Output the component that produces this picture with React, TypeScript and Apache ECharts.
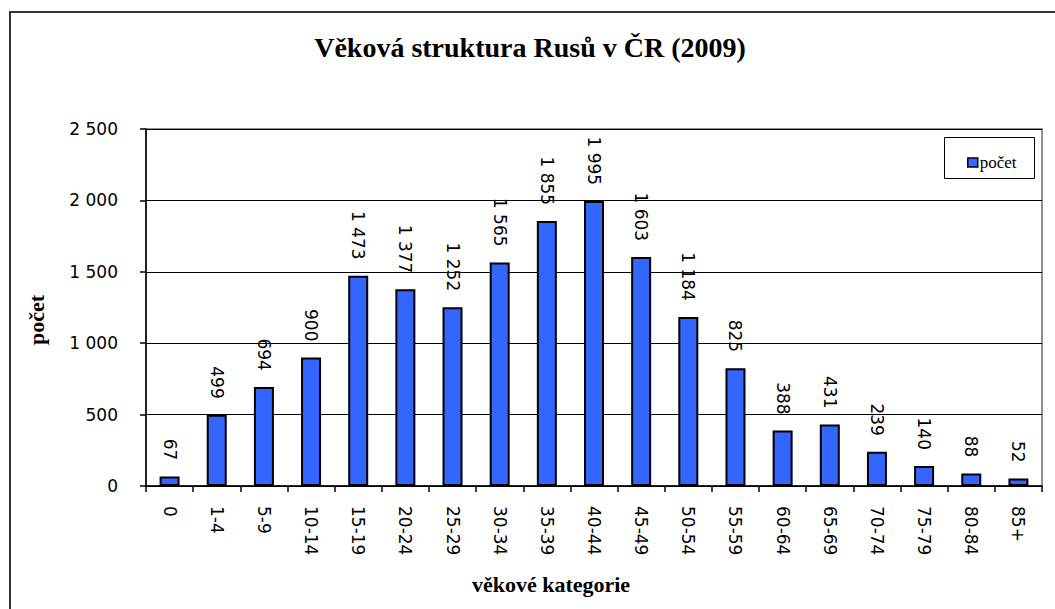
import React, { useEffect, useRef } from "react";
import * as echarts from "echarts";

const categories = ["0", "1-4", "5-9", "10-14", "15-19", "20-24", "25-29", "30-34", "35-39", "40-44", "45-49", "50-54", "55-59", "60-64", "65-69", "70-74", "75-79", "80-84", "85+"];
const values = [67, 499, 694, 900, 1473, 1377, 1252, 1565, 1855, 1995, 1603, 1184, 825, 388, 431, 239, 140, 88, 52];
const seriesName = "počet";
const titleText = "Věková struktura Rusů v ČR (2009)";
const xName = "věkové kategorie";
const yName = "počet";

const fmt = (v: number) => String(v).replace(/\B(?=(\d{3})+(?!\d))/g, " ");

export default function App() {
  const ref = useRef<HTMLDivElement>(null);
  useEffect(() => {
    document.body.style.margin = "0";
    const chart = echarts.init(ref.current!, null, { renderer: "svg" });
    const sans = "DejaVu Sans";
    const serif = "Liberation Serif";
    chart.setOption({
      animation: false,
      backgroundColor: "#fff",
      grid: {
        left: 146,
        top: 129,
        right: 13,
        bottom: 123,
        show: true,
        borderColor: "#909090",
        borderWidth: 2,
      },
      legend: {
        left: 962,
        top: 149,
        itemWidth: 10,
        itemHeight: 9,
        itemGap: 0,
        icon: "rect",
        textStyle: { fontFamily: serif, fontSize: 17, color: "#000", padding: [0, 0, 0, -3] },
        data: [{ name: seriesName, itemStyle: { borderColor: "#000", borderWidth: 1.5 } }],
      },
      xAxis: {
        type: "category",
        data: categories,
        boundaryGap: true,
        axisLine: { lineStyle: { color: "#000", width: 1.5 } },
        axisTick: { show: true, length: 6, lineStyle: { color: "#000", width: 1.5 } },
        axisLabel: {
          rotate: -90,
          margin: 20,
          fontFamily: sans,
          fontSize: 17,
          color: "#000",
          interval: 0,
        },
        splitLine: { show: false },
      },
      yAxis: {
        type: "value",
        min: 0,
        max: 2500,
        interval: 500,
        axisLine: { show: true, lineStyle: { color: "#000", width: 1.5 } },
        axisTick: { show: true, length: 6, lineStyle: { color: "#000", width: 1.5 } },
        axisLabel: {
          margin: 28,
          fontFamily: sans,
          fontSize: 17,
          color: "#000",
          formatter: (v: number) => fmt(v),
        },
        splitLine: { show: true, lineStyle: { color: "#000", width: 1 } },
      },
      series: [
        {
          name: seriesName,
          type: "bar",
          data: values,
          barWidth: 20,
          itemStyle: { color: "#3366FF", borderColor: "#000", borderWidth: 2 },
          label: {
            show: true,
            position: "top",
            distance: 16,
            rotate: -90,
            align: "right",
            verticalAlign: "middle",
            fontFamily: sans,
            fontSize: 17,
            color: "#000",
            formatter: (p: any) => fmt(p.value),
          },
        },
      ],
      graphic: [
        {
          type: "polyline",
          shape: { points: [[10, 700], [10, 12], [1100, 12]] },
          style: { stroke: "#333", lineWidth: 2, fill: null },
          silent: true,
        },
        {
          type: "rect",
          shape: { x: 944.5, y: 137.5, width: 90, height: 41 },
          style: { stroke: "#000", lineWidth: 1, fill: "#fff" },
          z: -1,
          silent: true,
        },
        {
          type: "text",
          x: 530,
          y: 47,
          style: {
            text: titleText,
            fontFamily: serif,
            fontWeight: "bold",
            fontSize: 28,
            fill: "#000",
            align: "center",
            verticalAlign: "middle",
          },
        },
        {
          type: "text",
          x: 551,
          y: 584,
          style: {
            text: xName,
            fontFamily: serif,
            fontWeight: "bold",
            fontSize: 22,
            fill: "#000",
            align: "center",
            verticalAlign: "middle",
          },
        },
        {
          type: "text",
          x: 36,
          y: 320,
          rotation: Math.PI / 2,
          style: {
            text: yName,
            fontFamily: serif,
            fontWeight: "bold",
            fontSize: 22,
            fill: "#000",
            align: "center",
            verticalAlign: "middle",
          },
        },
      ],
    });
    return () => chart.dispose();
  }, []);
  return <div ref={ref} style={{ width: 1055, height: 609 }} />;
}
